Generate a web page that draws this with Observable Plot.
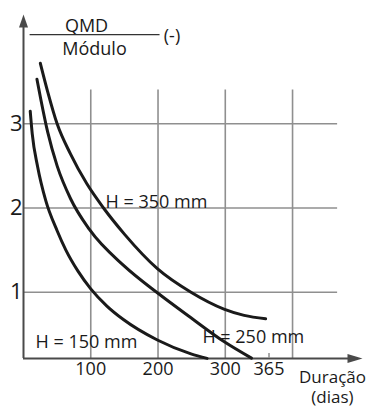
<!DOCTYPE html>
<html><head><meta charset="utf-8">
<script src="https://cdn.jsdelivr.net/npm/d3@7"></script>
<script src="https://cdn.jsdelivr.net/npm/@observablehq/plot@0.6"></script>
<style>html,body{margin:0;padding:0;background:#fff;} #chart{width:370px;height:408px;overflow:hidden}</style>
</head><body><div id="chart"></div>
<script>
// ---- data ----
const xTickValues = [100, 200, 300, 365];
const xTickLabels = ["100", "200", "300", "365"];
const yTickValues = [1, 2, 3];
const yTickLabels = ["1", "2", "3"];
const xGridValues = [100, 200, 300, 400];
const yGridValues = [1, 2, 3];

const h150 = [[10,3.15],[13,2.88],[21,2.49],[33,2.09],[50,1.73],[63,1.50],[81,1.25],[100,1.04],[124,0.835],[149,0.672],[199,0.432],[249,0.267],[273,0.214]];
const h250 = [[20,3.53],[26,3.28],[36,2.90],[50,2.50],[70,2.11],[98,1.745],[150,1.31],[199,0.993],[249,0.696],[298,0.414],[339,0.217]];
const h350 = [[25,3.72],[36,3.38],[50,3.0],[70,2.64],[94,2.29],[119,2.0],[150,1.69],[199,1.28],[249,1.0],[298,0.80],[328,0.725],[360,0.684]];

const curveLabels = ["H = 150 mm", "H = 250 mm", "H = 350 mm"];
const curveLabelX = [18, 266, 122];
const curveLabelY = [0.41, 0.46, 2.07];

const yLabelTop = "QMD";
const yLabelBottom = "Módulo";
const yLabelUnit = "(-)";
const xLabel = "Duração";
const xUnit = "(dias)";

// ---- layout constants ----
const xMin = 0, xMax = 504;
const yMin = 0.2126, yMax = 4.298;
const gridXEnd = 467, gridYEnd = 3.40;
const FONT = "Open Sans";
const axisColor = "#4a4a4a";
const gridColor = "#8f8f8f";

const rows = (pts, name) => pts.map(([x, y]) => ({x, y, name}));
const curves = [
  ...rows(h150, curveLabels[0]),
  ...rows(h250, curveLabels[1]),
  ...rows(h350, curveLabels[2])
];
const labels = curveLabels.map((t, i) => ({t, x: curveLabelX[i], y: curveLabelY[i]}));

const arrowRight = {draw(c) { c.moveTo(0, 0); c.lineTo(-15, -4.5); c.lineTo(-15, 4.5); c.closePath(); }};
const arrowUp = {draw(c) { c.moveTo(0, 0); c.lineTo(-4.5, 13); c.lineTo(4.5, 13); c.closePath(); }};

const chart = Plot.plot({
  width: 370,
  height: 408,
  marginLeft: 23,
  marginRight: 8,
  marginTop: 14,
  marginBottom: 50,
  style: {fontFamily: FONT, fontSize: "18px", background: "#fff", color: "#1a1a1a", overflow: "visible"},
  x: {domain: [xMin, xMax]},
  y: {domain: [yMin, yMax]},
  marks: [
    // grid
    Plot.ruleX(xGridValues, {x: d => d, y1: yMin, y2: gridYEnd, stroke: gridColor, strokeWidth: 1.6}),
    Plot.ruleY(yGridValues, {y: d => d, x1: xMin, x2: gridXEnd, stroke: gridColor, strokeWidth: 1.6}),
    // axes lines
    Plot.ruleY([yMin], {x1: xMin, x2: xMax - 14 / 0.6726, stroke: axisColor, strokeWidth: 2}),
    Plot.ruleX([xMin], {y1: yMin, y2: yMax - 12 / 84.2, stroke: axisColor, strokeWidth: 2}),
    Plot.ruleX([365], {y1: yMin, y2: yMin + 5 / 84.2, stroke: gridColor, strokeWidth: 1.5}),
    Plot.dot([[xMax, yMin]], {x: d => d[0], y: d => d[1], symbol: arrowRight, fill: axisColor, stroke: null}),
    Plot.dot([[xMin, yMax]], {x: d => d[0], y: d => d[1], symbol: arrowUp, fill: axisColor, stroke: null}),
    // tick labels
    Plot.axisX(xTickValues, {tickSize: 0, tickPadding: 4, fontSize: 18, label: null, tickFormat: (d, i) => xTickLabels[i]}),
    Plot.axisY(yTickValues, {tickSize: 0, tickPadding: 1, fontSize: 22, label: null, tickFormat: (d, i) => yTickLabels[i]}),
    // curves
    Plot.line(curves, {x: "x", y: "y", z: "name", curve: "monotone-x", stroke: "#1a1a1a", strokeWidth: 3}),
    // curve labels
    Plot.text(labels, {x: "x", y: "y", text: "t", textAnchor: "start", lineAnchor: "middle", fontSize: 18, fill: "#1a1a1a"}),
    // axis titles
    Plot.text([yLabelTop], {frameAnchor: "top-left", dx: 63, dy: 12, text: d => d, textAnchor: "middle", lineAnchor: "middle", fontSize: 18}),
    Plot.text([yLabelBottom], {frameAnchor: "top-left", dx: 71, dy: 34.5, text: d => d, textAnchor: "middle", lineAnchor: "middle", fontSize: 18}),
    Plot.text([yLabelUnit], {frameAnchor: "top-left", dx: 148.5, dy: 21.5, text: d => d, textAnchor: "middle", lineAnchor: "middle", fontSize: 18}),
    Plot.ruleY([4.06], {x1: 9.8, x2: 203, stroke: "#333", strokeWidth: 1.3}),
    Plot.text([xLabel + "\n" + xUnit], {frameAnchor: "bottom-right", dx: -30, dy: 28, text: d => d, textAnchor: "middle", lineAnchor: "middle", lineHeight: 1.18, fontSize: 17})
  ]
});
document.getElementById("chart").appendChild(chart);
</script>
</body></html>
